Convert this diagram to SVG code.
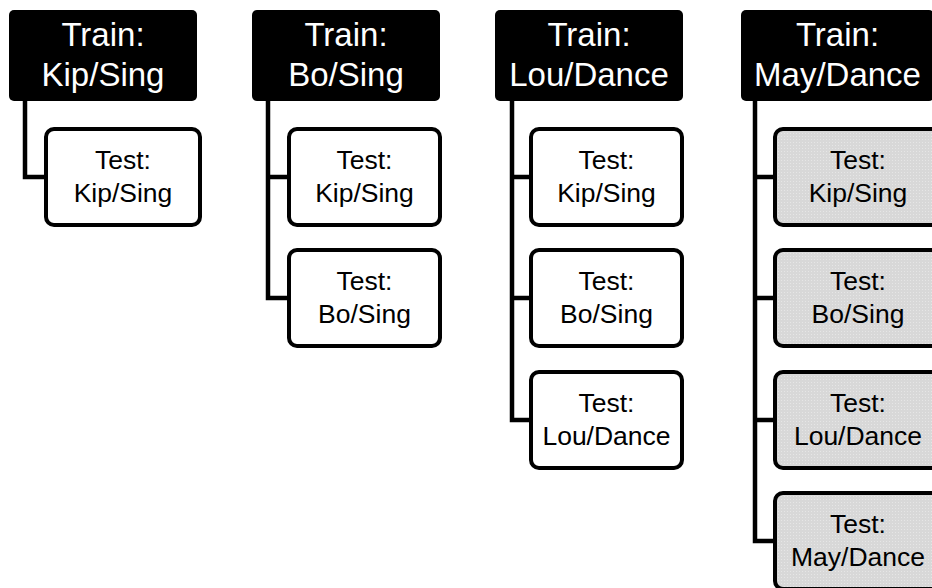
<svg xmlns="http://www.w3.org/2000/svg" width="932" height="588" viewBox="0 0 932 588">
<style>
.train{fill:#000}
.test{fill:#fff;stroke:#000;stroke-width:4}
.gray{fill:url(#dots)}
.tt{font-family:"Liberation Sans",Arial,sans-serif;font-size:33px;fill:#fff;text-anchor:middle}
.ts{font-family:"Liberation Sans",Arial,sans-serif;font-size:26.5px;fill:#000;text-anchor:middle}
.conn path{fill:none;stroke:#000;stroke-width:4.5;stroke-linejoin:miter}
</style>
<defs>
<pattern id="dots" width="3" height="3" patternUnits="userSpaceOnUse">
<rect width="3" height="3" fill="#d8d8d8"/>
<rect x="1" y="1" width="1" height="1" fill="#e6e6e6"/>
</pattern>
</defs>
<rect width="932" height="588" fill="#fff"/>
<g class="conn" id="connectors">
<path d="M25 100 V177 H46"/>
<path d="M268 100 V298 H289 M268 177 H289"/>
<path d="M512 100 V420 H531 M512 177 H531 M512 298 H531"/>
<path d="M755 100 V541 H775 M755 177 H775 M755 298 H775 M755 420 H775"/>
</g>
<g id="train1"><rect class="train" x="9" y="10" width="188" height="91" rx="5"/><text class="tt" x="103" y="46">Train:</text><text class="tt" x="103" y="86">Kip/Sing</text></g>
<g id="train2"><rect class="train" x="252" y="10" width="188" height="91" rx="5"/><text class="tt" x="346" y="46">Train:</text><text class="tt" x="346" y="86">Bo/Sing</text></g>
<g id="train3"><rect class="train" x="495" y="10" width="188" height="91" rx="5"/><text class="tt" x="589" y="46">Train:</text><text class="tt" x="589" y="86">Lou/Dance</text></g>
<g id="train4"><rect class="train" x="741" y="10" width="193" height="91" rx="5"/><text class="tt" x="837.5" y="46">Train:</text><text class="tt" x="837.5" y="86">May/Dance</text></g>

<g id="test1-1"><rect class="test" x="46" y="129" width="154" height="96" rx="8"/><text class="ts" x="123" y="169">Test:</text><text class="ts" x="123" y="202">Kip/Sing</text></g>

<g id="test2-1"><rect class="test" x="289" y="129" width="151" height="96" rx="8"/><text class="ts" x="364.5" y="169">Test:</text><text class="ts" x="364.5" y="202">Kip/Sing</text></g>
<g id="test2-2"><rect class="test" x="289" y="250" width="151" height="96" rx="8"/><text class="ts" x="364.5" y="290">Test:</text><text class="ts" x="364.5" y="323">Bo/Sing</text></g>

<g id="test3-1"><rect class="test" x="531" y="129" width="151" height="96" rx="8"/><text class="ts" x="606.5" y="169">Test:</text><text class="ts" x="606.5" y="202">Kip/Sing</text></g>
<g id="test3-2"><rect class="test" x="531" y="250" width="151" height="96" rx="8"/><text class="ts" x="606.5" y="290">Test:</text><text class="ts" x="606.5" y="323">Bo/Sing</text></g>
<g id="test3-3"><rect class="test" x="531" y="372" width="151" height="96" rx="8"/><text class="ts" x="606.5" y="412">Test:</text><text class="ts" x="606.5" y="445">Lou/Dance</text></g>

<g id="test4-1"><rect class="test gray" x="775" y="129" width="166" height="96" rx="8"/><text class="ts" x="858" y="169">Test:</text><text class="ts" x="858" y="202">Kip/Sing</text></g>
<g id="test4-2"><rect class="test gray" x="775" y="250" width="166" height="96" rx="8"/><text class="ts" x="858" y="290">Test:</text><text class="ts" x="858" y="323">Bo/Sing</text></g>
<g id="test4-3"><rect class="test gray" x="775" y="372" width="166" height="96" rx="8"/><text class="ts" x="858" y="412">Test:</text><text class="ts" x="858" y="445">Lou/Dance</text></g>
<g id="test4-4"><rect class="test gray" x="775" y="493" width="166" height="96" rx="8"/><text class="ts" x="858" y="533">Test:</text><text class="ts" x="858" y="566">May/Dance</text></g>
</svg>
